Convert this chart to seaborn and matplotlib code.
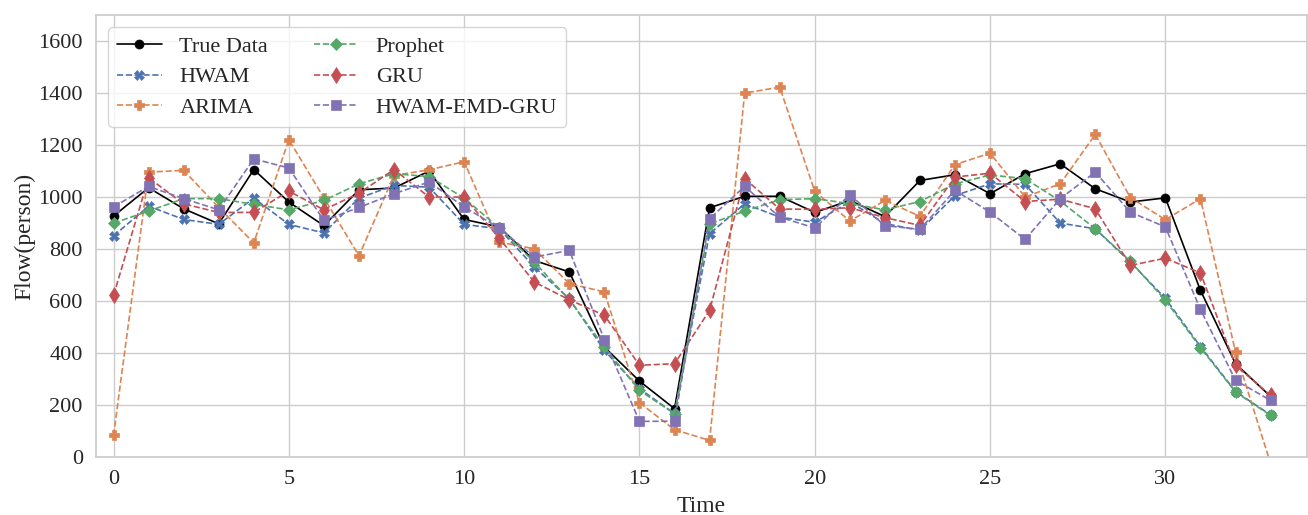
import numpy as np
import pandas as pd
import matplotlib
matplotlib.use("Agg")
import matplotlib.pyplot as plt
import seaborn as sns

time = list(range(34))
true_data = [927, 1036, 955, 897, 1106, 981, 890, 1028, 1035, 1100, 914, 885, 756, 712, 423, 292, 186,
             959, 1003, 1003, 941, 987, 925, 1064, 1086, 1013, 1090, 1128, 1032, 981, 997, 641, 359, 233]
hwam = [851, 965, 914, 895, 996, 895, 862, 996, 1045, 1038, 895, 878, 731, 609, 410, 263, 167,
        859, 974, 923, 903, 982, 898, 872, 1006, 1051, 1049, 900, 878, 750, 610, 425, 252, 162]
arima = [83, 1096, 1103, 960, 824, 1221, 997, 774, 1083, 1105, 1136, 827, 801, 667, 635, 209, 105,
         64, 1400, 1423, 1022, 908, 987, 926, 1125, 1169, 1000, 1051, 1241, 998, 913, 994, 404, -25]
prophet = [900, 946, 994, 994, 972, 951, 987, 1051, 1090, 1079, 996, 881, 750, 605, 423, 256, 167,
           897, 946, 990, 994, 975, 951, 983, 1051, 1085, 1071, 985, 878, 753, 603, 421, 250, 160]
gru = [622, 1074, 974, 941, 941, 1023, 951, 1015, 1106, 1000, 1000, 842, 673, 605, 545, 353, 359,
       564, 1071, 954, 953, 959, 921, 891, 1077, 1092, 983, 992, 955, 737, 765, 708, 353, 237]
hwam_emd_gru = [962, 1041, 994, 951, 1147, 1112, 910, 960, 1013, 1058, 962, 881, 769, 795, 451, 137, 138,
                917, 1041, 923, 881, 1009, 890, 876, 1026, 942, 837, 994, 1096, 942, 885, 568, 295, 218]

labels = ["True Data", "HWAM", "ARIMA", "Prophet", "GRU", "HWAM-EMD-GRU"]
series = [true_data, hwam, arima, prophet, gru, hwam_emd_gru]

sns.set_theme(style="whitegrid")
plt.rcParams['font.family'] = ['Liberation Serif', 'DejaVu Serif']

pal = sns.color_palette("deep")
styles = {
    "True Data": dict(color="black", marker="o", linestyle="-", ms=6.5),
    "HWAM": dict(color=pal[0], marker="X", linestyle="--", ms=6.5),
    "ARIMA": dict(color=pal[1], marker="P", linestyle="--", ms=6.5),
    "Prophet": dict(color=pal[2], marker="D", linestyle="--", ms=6),
    "GRU": dict(color=pal[3], marker="d", linestyle="--", ms=8),
    "HWAM-EMD-GRU": dict(color=pal[4], marker="s", linestyle="--", ms=6.5),
}

fig = plt.figure(figsize=(13.08, 5.15), dpi=100)
ax = fig.add_axes([0.0734, 0.1126, 0.9256, 0.858])

for lab, vals in zip(labels, series):
    st = styles[lab]
    sns.lineplot(x=time, y=vals, ax=ax, label=lab, color=st["color"], marker=st["marker"],
                 linestyle=st["linestyle"], markersize=st["ms"], markeredgecolor=st["color"],
                 markeredgewidth=0.5, linewidth=1.2)

ax.set_xlim(-0.5, 34.03)
ax.set_ylim(0, 1700)
ax.set_yticks(range(0, 1601, 200))
ax.set_xticks(range(0, 31, 5))
ax.tick_params(labelsize=16)
ax.set_xlabel("Time", fontsize=17, labelpad=5)
ax.set_ylabel("Flow(person)", fontsize=17, labelpad=2)

ax.legend(loc="upper left", ncol=2, fontsize=16, handlelength=2.0, columnspacing=2.05,
          labelspacing=0.45, borderaxespad=0.55)

fig.savefig("out.png", dpi=100)
